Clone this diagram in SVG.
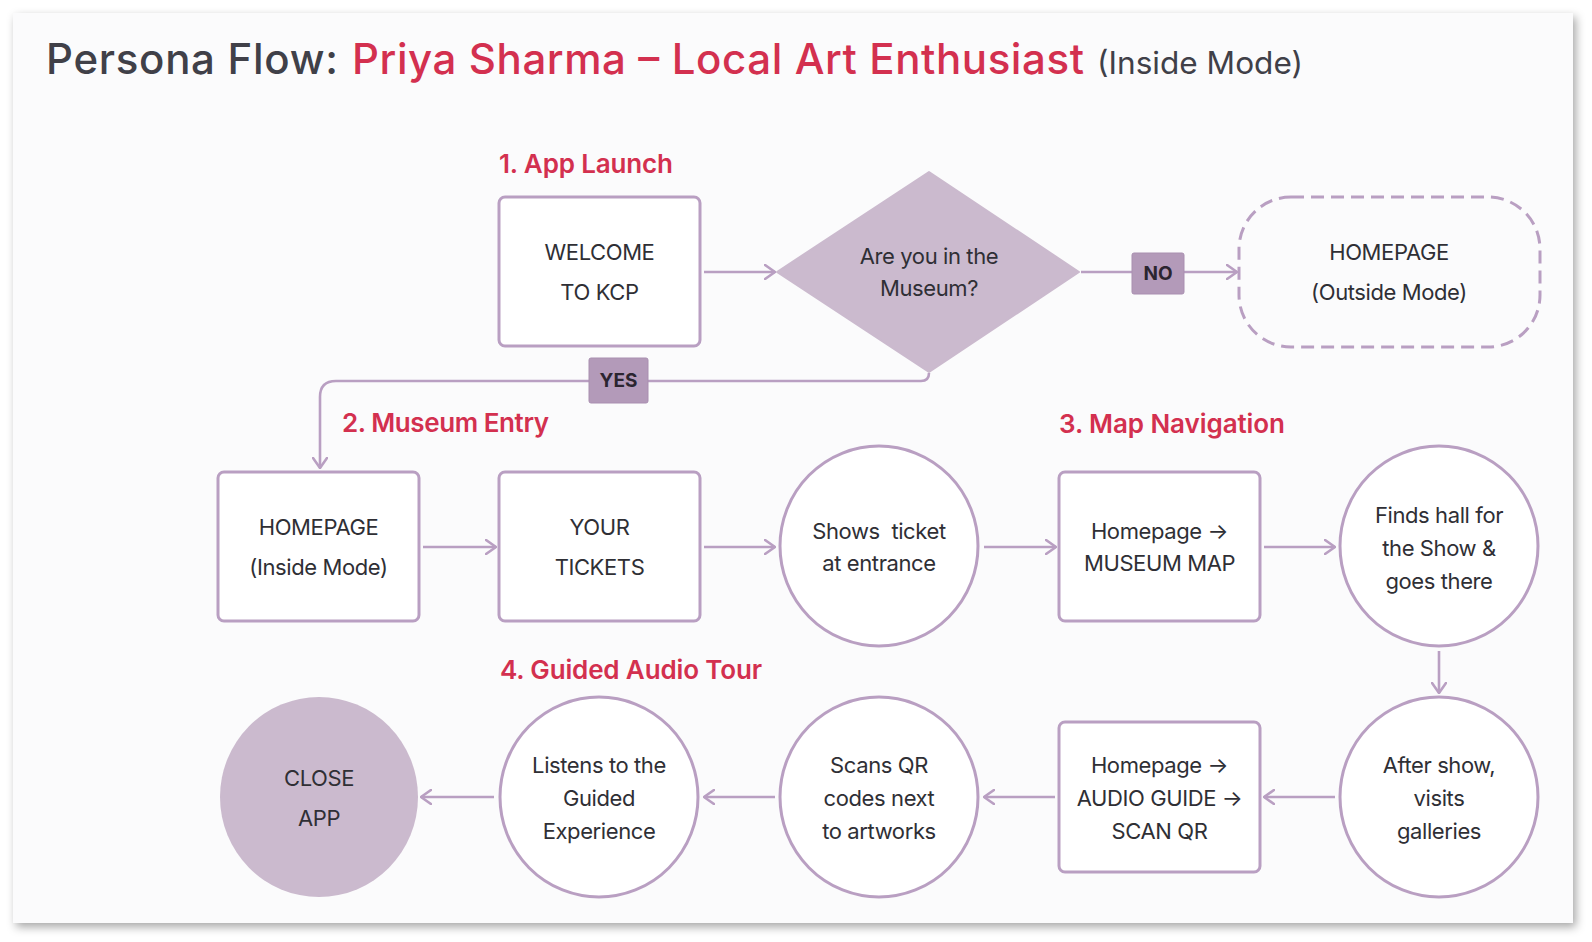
<svg xmlns="http://www.w3.org/2000/svg" width="1592" height="942" viewBox="0 0 1592 942">
<defs>
<filter id="shadow" x="-5%" y="-5%" width="110%" height="110%">
<feDropShadow dx="3" dy="4" stdDeviation="5" flood-color="#000" flood-opacity="0.35"/>
</filter>
<marker id="arr" viewBox="0 0 12 16" markerWidth="12" markerHeight="16" refX="11" refY="8" orient="auto" markerUnits="userSpaceOnUse">
<path d="M1,1 L11,8 L1,15" fill="none" stroke="#b99fc2" stroke-width="2.6" stroke-linecap="round" stroke-linejoin="round"/>
</marker>
<style>
.node{fill:#ffffff;stroke:#b99fc2;stroke-width:3}
.fill{fill:#cbbace;stroke:none}
.lbl{fill:#b39ab9;stroke:#a98fb0;stroke-width:1}
.t{font-family:Inter,"Liberation Sans",sans-serif;font-size:22px;fill:#2f2f35;text-anchor:middle;letter-spacing:-0.4px;white-space:pre}
.lt{font-family:Inter,"Liberation Sans",sans-serif;font-size:19px;font-weight:700;fill:#2b2530;text-anchor:middle}
.h{font-family:Inter,"Liberation Sans",sans-serif;font-size:26px;font-weight:600;fill:#d3304f}
.conn{fill:none;stroke:#b99fc2;stroke-width:2.6}
</style>
</defs>
<rect x="0" y="0" width="1592" height="942" fill="#ffffff"/>
<rect x="13" y="13" width="1560" height="910" fill="#fbfbfc" filter="url(#shadow)"/>

<g id="title">
<text x="46" y="74" font-family="Inter,'Liberation Sans',sans-serif" font-size="42" font-weight="500" fill="#404048" textLength="292" lengthAdjust="spacing">Persona Flow:</text>
<text x="352" y="74" font-family="Inter,'Liberation Sans',sans-serif" font-size="42" font-weight="500" fill="#d3304f" textLength="732" lengthAdjust="spacing">Priya Sharma – Local Art Enthusiast</text>
<text x="1097" y="74" font-family="Inter,'Liberation Sans',sans-serif" font-size="31" font-weight="400" fill="#404048" textLength="206" lengthAdjust="spacingAndGlyphs">(Inside Mode)</text>
</g>

<g id="headers">
<text class="h" x="499" y="173" textLength="174">1. App Launch</text>
<text class="h" x="342" y="432" textLength="207">2. Museum Entry</text>
<text class="h" x="1059" y="433" textLength="226">3. Map Navigation</text>
<text class="h" x="500" y="679" textLength="262">4. Guided Audio Tour</text>
</g>

<g id="connectors">
<line class="conn" x1="704" y1="272" x2="775" y2="272" marker-end="url(#arr)"/>
<line class="conn" x1="1081" y1="272" x2="1132" y2="272"/>
<line class="conn" x1="1184" y1="272" x2="1237" y2="272" marker-end="url(#arr)"/>
<path class="conn" d="M929,373 Q929,381 921,381 L336,381 Q320,381 320,397 L320,468" marker-end="url(#arr)"/>
<line class="conn" x1="423" y1="547" x2="496" y2="547" marker-end="url(#arr)"/>
<line class="conn" x1="704" y1="547" x2="775" y2="547" marker-end="url(#arr)"/>
<line class="conn" x1="984" y1="547" x2="1056" y2="547" marker-end="url(#arr)"/>
<line class="conn" x1="1264" y1="547" x2="1335" y2="547" marker-end="url(#arr)"/>
<line class="conn" x1="1439" y1="651" x2="1439" y2="693" marker-end="url(#arr)"/>
<line class="conn" x1="1335" y1="797" x2="1264" y2="797" marker-end="url(#arr)"/>
<line class="conn" x1="1055" y1="797" x2="984" y2="797" marker-end="url(#arr)"/>
<line class="conn" x1="775" y1="797" x2="704" y2="797" marker-end="url(#arr)"/>
<line class="conn" x1="494" y1="797" x2="421" y2="797" marker-end="url(#arr)"/>
<g id="label-no">
<rect class="lbl" x="1132" y="253" width="52" height="41" rx="2"/>
<text class="lt" x="1158" y="280">NO</text>
</g>
<g id="label-yes">
<rect class="lbl" x="589" y="358" width="59" height="45" rx="2"/>
<text class="lt" x="618.5" y="387">YES</text>
</g>
</g>

<g id="welcome">
<rect class="node" x="499" y="197" width="201" height="149" rx="6"/>
<text class="t" x="599.5" y="260">WELCOME</text>
<text class="t" x="599.5" y="300">TO KCP</text>
</g>

<g id="decision">
<polygon points="929,172 1079,272 929,372 777,272" fill="#cbbace" stroke="#cbbace" stroke-width="2" stroke-linejoin="round"/>
<text class="t" x="929" y="264">Are you in the</text>
<text class="t" x="929" y="296">Museum?</text>
</g>

<g id="homepage-outside">
<rect x="1239" y="197" width="301" height="150" rx="52" fill="none" stroke="#b99fc2" stroke-width="3" stroke-dasharray="13,7"/>
<text class="t" x="1389" y="260">HOMEPAGE</text>
<text class="t" x="1389" y="300">(Outside Mode)</text>
</g>

<g id="homepage-inside">
<rect class="node" x="218" y="472" width="201" height="149" rx="6"/>
<text class="t" x="318.5" y="535">HOMEPAGE</text>
<text class="t" x="318.5" y="575">(Inside Mode)</text>
</g>

<g id="your-tickets">
<rect class="node" x="499" y="472" width="201" height="149" rx="6"/>
<text class="t" x="599.5" y="535">YOUR</text>
<text class="t" x="599.5" y="575">TICKETS</text>
</g>

<g id="shows-ticket">
<ellipse class="node" cx="879" cy="546" rx="99" ry="100"/>
<text class="t" x="879" y="539">Shows  ticket</text>
<text class="t" x="879" y="571">at entrance</text>
</g>

<g id="museum-map">
<rect class="node" x="1059" y="472" width="201" height="149" rx="6"/>
<text class="t" x="1159.5" y="539">Homepage →</text>
<text class="t" x="1159.5" y="571">MUSEUM MAP</text>
</g>

<g id="finds-hall">
<ellipse class="node" cx="1439" cy="546" rx="99" ry="100"/>
<text class="t" x="1439" y="523">Finds hall for</text>
<text class="t" x="1439" y="556">the Show &amp;</text>
<text class="t" x="1439" y="589">goes there</text>
</g>

<g id="after-show">
<ellipse class="node" cx="1439" cy="797" rx="99" ry="100"/>
<text class="t" x="1439" y="773">After show,</text>
<text class="t" x="1439" y="806">visits</text>
<text class="t" x="1439" y="839">galleries</text>
</g>

<g id="audio-guide">
<rect class="node" x="1059" y="722" width="201" height="150" rx="6"/>
<text class="t" x="1159.5" y="773">Homepage →</text>
<text class="t" x="1159.5" y="806">AUDIO GUIDE →</text>
<text class="t" x="1159.5" y="839">SCAN QR</text>
</g>

<g id="scans-qr">
<ellipse class="node" cx="879" cy="797" rx="99" ry="100"/>
<text class="t" x="879" y="773">Scans QR</text>
<text class="t" x="879" y="806">codes next</text>
<text class="t" x="879" y="839">to artworks</text>
</g>

<g id="listens">
<ellipse class="node" cx="599" cy="797" rx="99" ry="100"/>
<text class="t" x="599" y="773">Listens to the</text>
<text class="t" x="599" y="806">Guided</text>
<text class="t" x="599" y="839">Experience</text>
</g>

<g id="close-app">
<ellipse class="fill" cx="319" cy="797" rx="99" ry="100"/>
<text class="t" x="319" y="786">CLOSE</text>
<text class="t" x="319" y="826">APP</text>
</g>
</svg>
